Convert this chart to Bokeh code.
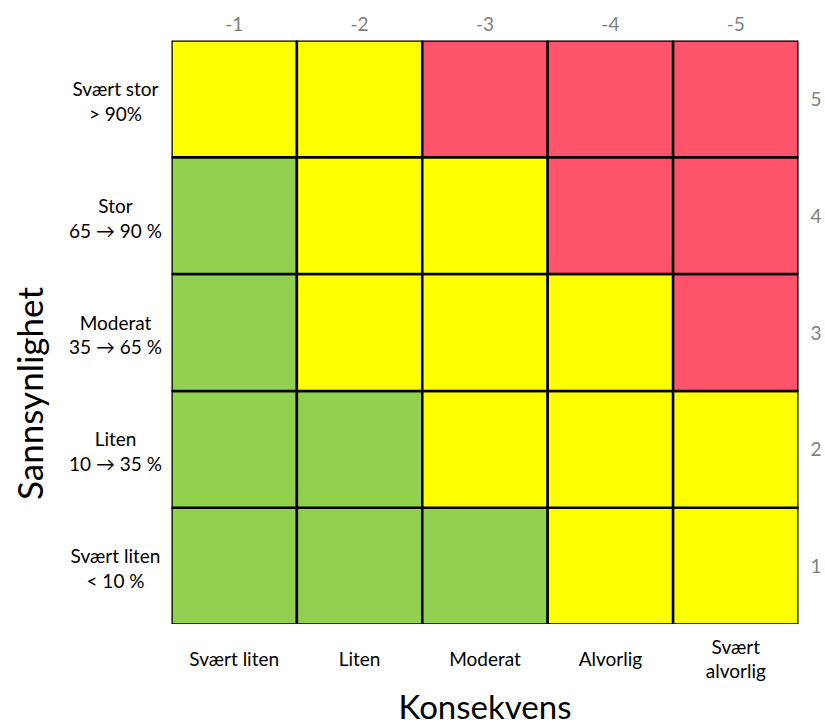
import math
from bokeh.plotting import figure
from bokeh.models import FixedTicker, LinearAxis, Range1d
from bokeh.layouts import row, column
from bokeh.core.properties import value
from bokeh.embed import file_html
from bokeh.resources import INLINE

# ---- data ----
konsekvens = ["Svært liten", "Liten", "Moderat", "Alvorlig", "Svært\nalvorlig"]
konsekvens_score = ["-1", "-2", "-3", "-4", "-5"]
sannsynlighet = ["Svært liten\n< 10 %", "Liten\n10 \u2192 35 %", "Moderat\n35 \u2192 65 %",
                 "Stor\n65 \u2192 90 %", "Svært stor\n> 90%"]
sannsynlighet_score = ["1", "2", "3", "4", "5"]
# risk level per row (sannsynlighet 1..5), per column (konsekvens 1..5): 0=green,1=yellow,2=red
risk_rows = [
    [0, 0, 0, 1, 1],
    [0, 0, 1, 1, 1],
    [0, 1, 1, 1, 2],
    [0, 1, 1, 2, 2],
    [1, 1, 2, 2, 2],
]
level_colors = ["#92D050", "#FFFF00", "#FF526B"]
x_title = "Konsekvens"
y_title = "Sannsynlighet"

FONT = "Lato"
GRAY = "#7F7F7F"

positions = [k + 1 for k in range(5)]
xs, ys, cols = [], [], []
for i, r in enumerate(risk_rows):
    for j, lvl in enumerate(r):
        xs.append(positions[j])
        ys.append(positions[i])
        cols.append(level_colors[lvl])

xr = Range1d(0.5, 5.5)
yr = Range1d(0.5, 5.5)


def clean(f):
    f.outline_line_color = None
    f.grid.visible = False
    f.background_fill_color = "white"
    f.border_fill_color = "white"


# ---- main grid ----
p = figure(width=654, height=624, output_backend="svg", toolbar_location=None,
           x_range=xr, y_range=yr,
           min_border_left=0, min_border_right=27, min_border_top=40, min_border_bottom=0,
           x_axis_location=None, y_axis_location=None)
clean(p)
p.rect(x=xs, y=ys, width=1, height=1, fill_color=cols, line_color="black", line_width=2.5)

ticks = FixedTicker(ticks=positions)


def style_axis(ax, labels):
    ax.ticker = ticks
    ax.major_label_overrides = {positions[k]: lab for k, lab in enumerate(labels)}
    ax.axis_line_color = None
    ax.major_tick_line_color = None
    ax.minor_tick_line_color = None
    ax.major_tick_out = 0
    ax.major_tick_in = 0
    ax.minor_tick_out = 0
    ax.major_label_text_font = FONT
    ax.major_label_text_color = GRAY
    ax.major_label_text_font_size = "19px"


tx = LinearAxis()
style_axis(tx, konsekvens_score)
tx.major_label_standoff = 10
p.add_layout(tx, "above")

ry = LinearAxis()
style_axis(ry, sannsynlighet_score)
ry.major_label_standoff = 12
p.add_layout(ry, "right")

# ---- left panel: probability categories + title ----
pl = figure(width=171, height=624, output_backend="svg", toolbar_location=None,
            x_range=Range1d(0, 1), y_range=yr,
            min_border_left=0, min_border_right=0, min_border_top=40, min_border_bottom=0,
            x_axis_location=None, y_axis_location=None)
clean(pl)
pl.text(x=[pl.x_range.end] * len(sannsynlighet), y=positions, text=sannsynlighet,
        x_offset=-56, y_offset=2, text_align="center", text_baseline="middle",
        text_font=value(FONT), text_font_size="19px", text_color="black",
        text_line_height=1.08)
pl.text(x=[pl.x_range.start], y=[(yr.start + yr.end) / 2], text=[y_title],
        x_offset=28, y_offset=61, angle=math.pi / 2,
        text_align="center", text_baseline="middle",
        text_font=value(FONT), text_font_size="35px", text_color="black")

# ---- bottom panel: consequence categories + title ----
pb = figure(width=825, height=102, output_backend="svg", toolbar_location=None,
            x_range=xr, y_range=Range1d(0, 1),
            min_border_left=171, min_border_right=27, min_border_top=0, min_border_bottom=0,
            x_axis_location=None, y_axis_location=None)
clean(pb)
pb.text(x=positions, y=[pb.y_range.end] * len(konsekvens), text=konsekvens,
        y_offset=34, text_align="center", text_baseline="middle",
        text_font=value(FONT), text_font_size="19px", text_color="black",
        text_line_height=1.05)
pb.text(x=[(xr.start + xr.end) / 2], y=[pb.y_range.end], text=[x_title],
        y_offset=81, text_align="center", text_baseline="middle",
        text_font=value(FONT), text_font_size="33px", text_color="black")

layout = column(row(pl, p, spacing=0), pb, spacing=0)
open("out.html", "w").write(file_html(layout, INLINE))
